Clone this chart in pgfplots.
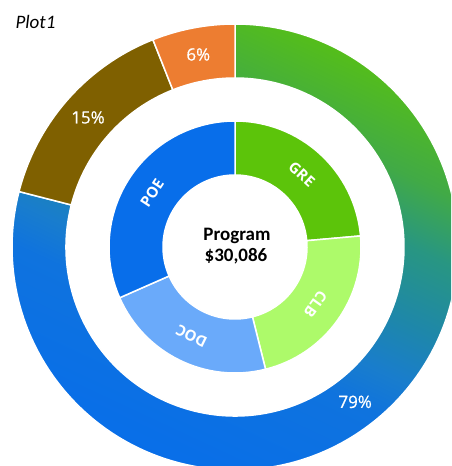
\documentclass[border=0pt]{standalone}
\usepackage{pgfplots}
\pgfplotsset{compat=1.18}
\usepackage{pgfplotstable}
\usepackage{fontspec}
\setmainfont{Carlito}
\newfontfamily\osans{Open Sans}
\newfontfamily\osansm[FakeBold=0.6]{Open Sans}
\definecolor{cGRE}{RGB}{92,196,10}
\definecolor{cCLB}{RGB}{173,250,106}
\definecolor{cDOC}{RGB}{106,170,250}
\definecolor{cPOE}{RGB}{8,110,234}
\definecolor{cOR}{RGB}{237,125,49}
\definecolor{cBR}{RGB}{127,96,0}
\definecolor{g0}{RGB}{5,108,238}
\definecolor{g1}{RGB}{15,115,222}
\definecolor{g2}{RGB}{25,125,205}
\definecolor{g3}{RGB}{30,135,170}
\definecolor{g4}{RGB}{40,150,130}
\definecolor{g5}{RGB}{65,170,70}
\definecolor{g6}{RGB}{85,190,25}
\definecolor{g7}{RGB}{92,200,10}
\pgfdeclareverticalshading{ringgrad}{100bp}{color(0bp)=(g0); color(18bp)=(g0); color(40bp)=(g1); color(44.5bp)=(g2); color(50.5bp)=(g3); color(58.5bp)=(g4); color(65.5bp)=(g5); color(75.3bp)=(g6); color(84bp)=(g7); color(100bp)=(g7)}
\tikzset{
  wGRE/.style={fill=cGRE},
  wCLB/.style={fill=cCLB},
  wDOC/.style={fill=cDOC},
  wPOE/.style={fill=cPOE},
  wOR/.style={fill=cOR},
  wBR/.style={fill=cBR},
  wGRAD/.style={shade, shading=ringgrad, shading angle=-25},
  seg/.style={draw=white, line width=1.5pt},
  inlab/.style={text=white, font=\osans\bfseries\fontsize{15}{16}\selectfont},
  outlab/.style={text=white, font=\osansm\fontsize{17}{19}\selectfont},
}
\pgfplotstableread{
label value style
GRE 23.6 wGRE
CLB 22.5 wCLB
DOC 22.3 wDOC
POE 31.6 wPOE
}\innertab
\pgfplotstableread{
label value style
A 79 wGRAD
B 15 wBR
C 6 wOR
}\outertab
\newcommand\ring[4]{%
  \pgfplotstablegetrowsof{#1}\pgfmathtruncatemacro\lastrow{\pgfplotsretval-1}%
  \gdef\cum{0}%
  \foreach \i in {0,...,\lastrow}{%
    \pgfplotstablegetelem{\i}{value}\of{#1}\let\val\pgfplotsretval
    \pgfplotstablegetelem{\i}{style}\of{#1}\let\st\pgfplotsretval
    \pgfplotstablegetelem{\i}{label}\of{#1}\let\lb\pgfplotsretval
    \pgfmathsetmacro\angA{90-3.6*\cum}%
    \pgfmathsetmacro\angB{90-3.6*(\cum+\val)}%
    \pgfmathsetmacro\angM{(\angA+\angB)/2}%
    \pgfmathsetmacro\rmid{(#2+#3)/2}%
    \pgfmathsetmacro\ax{#3*cos(\angA)}\pgfmathsetmacro\ay{#3*sin(\angA)}%
    \pgfmathsetmacro\bx{#2*cos(\angB)}\pgfmathsetmacro\by{#2*sin(\angB)}%
    \pgfmathsetmacro\mx{\rmid*cos(\angM)}\pgfmathsetmacro\my{\rmid*sin(\angM)}%
    \pgfmathsetmacro\rot{\angM-90}%
    \edef\temp{\noexpand\path[seg,\st] (axis cs:\ax,\ay) arc[start angle=\angA, end angle=\angB, radius=#3pt] -- (axis cs:\bx,\by) arc[start angle=\angB, end angle=\angA, radius=#2pt] -- cycle;}%
    \temp
    \ifnum#4=1
      \edef\temp{\noexpand\node[inlab,rotate=\rot] at (axis cs:\mx,\my) {\lb};}%
    \else
      \edef\temp{\noexpand\node[outlab] at (axis cs:\mx,\my) {\val\noexpand\%};}%
    \fi
    \temp
    \pgfmathsetmacro\cn{\cum+\val}\xdef\cum{\cn}%
  }%
}
\begin{document}
\begin{tikzpicture}
\begin{axis}[
  x=1pt, y=1pt, xmin=-235, xmax=216, ymin=-219, ymax=247,
  hide axis, clip=true, scale only axis,
]
\coordinate (SW) at (rel axis cs:0,0);
\coordinate (NE) at (rel axis cs:1,1);
\ring{\outertab}{169}{223}{0}
\ring{\innertab}{72}{126}{1}
\node[anchor=base, font=\bfseries\fontsize{19}{21}\selectfont] at (axis cs:2,6) {Program};
\node[anchor=base, font=\bfseries\fontsize{19}{21}\selectfont] at (axis cs:1,-15) {\$30,086};
\node[anchor=base west, font=\itshape\fontsize{19}{22}\selectfont] at (axis cs:-223,218) {Plot1};
\end{axis}
\pgfresetboundingbox
\useasboundingbox (SW) rectangle (NE);
\end{tikzpicture}
\end{document}
